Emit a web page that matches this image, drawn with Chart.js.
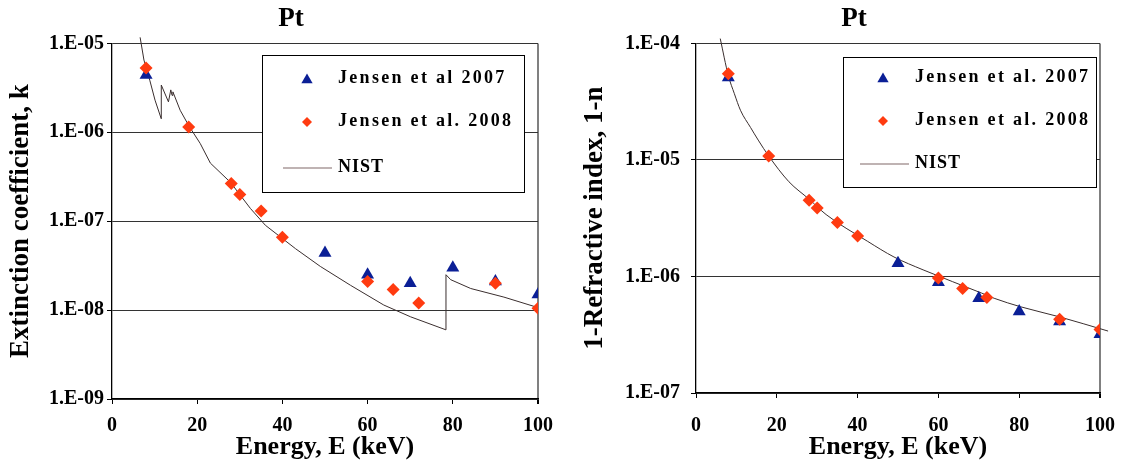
<!DOCTYPE html>
<html>
<head>
<title>Pt - extinction coefficient and refractive index</title>
<script src="https://cdn.jsdelivr.net/npm/chart.js"></script>
<style>
  body { margin: 0; background: #fff; }
  #wrap { display: flex; width: 1131px; height: 465px; }
  canvas { display: block; }
</style>
</head>
<body>
<div id="wrap">
  <canvas id="kPlot" width="576" height="465"></canvas>
  <canvas id="nPlot" width="555" height="465"></canvas>
</div>
<script>
// ---- left panel: extinction coefficient k ----
const kE2007 = [8, 50, 60, 70, 80, 90, 100];
const k2007 = [4.4e-6, 4.4e-8, 2.5e-8, 2.0e-8, 3.0e-8, 2.1e-8, 1.5e-8];
const kE2008 = [8, 18, 28, 30, 35, 40, 60, 66, 72, 90, 100];
const k2008 = [5.3e-6, 1.15e-6, 2.65e-7, 2.0e-7, 1.3e-7, 6.6e-8, 2.1e-8, 1.7e-8, 1.2e-8, 2.0e-8, 1.05e-8];
const kENist = [6.6, 7.5, 8.9, 10.1, 11.56, 11.57, 13.25, 13.8, 14.1, 14.3, 16, 18.1, 20.7, 23.1, 27.8,
                32.5, 36, 43.1, 48.9, 56, 63.8, 70.1, 78.38, 78.4, 79.5, 84.2, 92, 99.1, 100];
const kNist = [1.17e-5, 6.5e-6, 3.8e-6, 2.3e-6, 1.42e-6, 3.4e-6, 2.2e-6, 3.0e-6, 2.6e-6, 2.85e-6, 1.77e-6,
               1.17e-6, 7.5e-7, 4.5e-7, 2.74e-7, 1.39e-7, 9.0e-8, 4.9e-8, 3.1e-8, 1.9e-8, 1.14e-8, 8.4e-9,
               6.0e-9, 2.5e-8, 2.2e-8, 1.75e-8, 1.4e-8, 1.1e-8, 1.07e-8];
const kTicks = [1e-9, 1e-8, 1e-7, 1e-6, 1e-5];
const kTickLabels = ['1.E-09', '1.E-08', '1.E-07', '1.E-06', '1.E-05'];

// ---- right panel: 1 - n ----
const nE2007 = [8, 50, 60, 70, 80, 90, 100];
const n2007 = [5.1e-5, 1.3e-6, 8.9e-7, 6.5e-7, 5.0e-7, 4.1e-7, 3.2e-7];
const nE2008 = [8, 18, 28, 30, 35, 40, 60, 66, 72, 90, 100];
const n2008 = [5.5e-5, 1.08e-5, 4.5e-6, 3.86e-6, 2.9e-6, 2.23e-6, 9.7e-7, 7.9e-7, 6.6e-7, 4.3e-7, 3.5e-7];
const nENist = [6.0, 8, 9.5, 11, 13.5, 15.4, 18, 23, 28, 32.2, 42.5, 49, 56.2, 70.7, 73.8, 80.3, 90, 102];
const nNist = [1.1e-4, 5.3e-5, 3.7e-5, 2.67e-5, 1.9e-5, 1.48e-5, 1.08e-5, 6.5e-6, 4.6e-6, 3.4e-6, 2.0e-6,
               1.47e-6, 1.14e-6, 7.2e-7, 6.5e-7, 5.5e-7, 4.5e-7, 3.4e-7];
const nTicks = [1e-7, 1e-6, 1e-5, 1e-4];
const nTickLabels = ['1.E-07', '1.E-06', '1.E-05', '1.E-04'];

const FONT = "'Liberation Serif', 'Times New Roman', serif";
const BLUE = '#0b1f96';
const RED = '#ff3b10';
const NIST_COLOR = '#3a2e2e';

function pts(xs, ys) {
  return xs.map((x, i) => ({ x: x, y: ys[i] }));
}

// the chart title sits a little right of the canvas centre in the original
const titleNudge = {
  id: 'titleNudge',
  afterLayout(chart, args, o) {
    const t = chart.titleBlock;
    if (t) { t.left += o.dx; t.right += o.dx; }
  }
};

// spaced-out text, the legend of the original is tracked wide
function spacedText(ctx, str, x, y, gap) {
  for (const ch of str) {
    ctx.fillText(ch, x, y);
    x += ctx.measureText(ch).width + gap;
  }
}

// legend drawn as a framed white box inside the plot, like the original
const boxLegend = {
  id: 'boxLegend',
  afterDraw(chart, args, o) {
    const ctx = chart.ctx;
    ctx.save();
    ctx.fillStyle = '#fff';
    ctx.fillRect(o.x, o.y, o.w, o.h);
    ctx.strokeStyle = '#000';
    ctx.lineWidth = 1;
    ctx.strokeRect(o.x + 0.5, o.y + 0.5, o.w, o.h);
    ctx.font = 'bold 18px ' + FONT;
    ctx.textBaseline = 'middle';
    ctx.textAlign = 'left';
    chart.data.datasets.forEach((ds, i) => {
      const ry = o.rows[i];
      if (ds.showLine) {
        ctx.strokeStyle = '#806868';
        ctx.lineWidth = 1.2;
        ctx.beginPath();
        ctx.moveTo(o.lineX[0], ry + 1);
        ctx.lineTo(o.lineX[1], ry + 1);
        ctx.stroke();
      } else {
        ctx.fillStyle = ds.backgroundColor;
        ctx.beginPath();
        if (ds.pointStyle === 'triangle') {
          const r = 6.5, cy = ry + 2;
          ctx.moveTo(o.markX, cy - r);
          ctx.lineTo(o.markX + r * 0.866, cy + r / 2);
          ctx.lineTo(o.markX - r * 0.866, cy + r / 2);
        } else {
          const r = 5, cy = ry + 1;
          ctx.moveTo(o.markX, cy - r);
          ctx.lineTo(o.markX + r, cy);
          ctx.lineTo(o.markX, cy + r);
          ctx.lineTo(o.markX - r, cy);
        }
        ctx.closePath();
        ctx.fill();
      }
      ctx.fillStyle = '#000';
      spacedText(ctx, ds.label, o.textX, ry, ds.showLine ? 1 : 2.3);
    });
    ctx.restore();
  }
};

function makeChart(id, cfg) {
  return new Chart(document.getElementById(id), {
    type: 'scatter',
    data: {
      datasets: [{
        label: cfg.labels[0],
        data: pts(cfg.e2007, cfg.v2007),
        pointStyle: 'triangle',
        backgroundColor: BLUE,
        borderColor: BLUE,
        borderWidth: 0,
        pointRadius: 7.5,
        order: 2
      }, {
        label: cfg.labels[1],
        data: pts(cfg.e2008, cfg.v2008),
        pointStyle: 'rectRot',
        backgroundColor: RED,
        borderColor: RED,
        borderWidth: 0,
        pointRadius: 6.5,
        order: 1
      }, {
        label: 'NIST',
        data: pts(cfg.eNist, cfg.vNist),
        showLine: true,
        borderColor: NIST_COLOR,
        borderWidth: 1,
        pointRadius: 0,
        cubicInterpolationMode: cfg.smooth ? 'monotone' : 'default',
        tension: 0,
        clip: false,
        order: 3
      }]
    },
    options: {
      responsive: false,
      animation: false,
      events: [],
      layout: { padding: { left: 0, right: cfg.padRight, top: 0, bottom: 0 } },
      scales: {
        x: {
          type: 'linear',
          min: 0,
          max: 100,
          ticks: {
            stepSize: 20,
            padding: cfg.xTickPad,
            color: '#000',
            font: { family: FONT, size: 20, weight: 'bold' }
          },
          grid: {
            color: (c) => (c.tick && c.tick.value === 100) ? '#808080' : 'rgba(0,0,0,0)',
            lineWidth: (c) => (c.tick && c.tick.value === 100) ? 2 : 1,
            tickColor: '#000',
            tickLength: 5
          },
          border: { color: '#000', width: 1.3 },
          title: {
            display: true,
            text: 'Energy, E (keV)',
            color: '#000',
            font: { family: FONT, size: 26, weight: 'bold', lineHeight: 1 },
            padding: { top: 0, bottom: 5 }
          },
          afterFit: (s) => { s.height = cfg.xHeight; }
        },
        y: {
          type: 'logarithmic',
          min: cfg.ticks[0],
          max: cfg.ticks[cfg.ticks.length - 1],
          afterBuildTicks: (s) => { s.ticks = cfg.ticks.map(v => ({ value: v })); },
          ticks: {
            autoSkip: false,
            padding: cfg.yTickPad,
            color: '#000',
            font: { family: FONT, size: 20, weight: 'bold' },
            callback: (v, i) => cfg.tickLabels[i]
          },
          grid: {
            color: '#333',
            lineWidth: 1,
            tickColor: '#000',
            tickLength: 5
          },
          border: { color: '#000', width: 1.3 },
          title: {
            display: true,
            text: cfg.yTitle,
            color: '#000',
            font: { family: FONT, size: 27, weight: 'bold', lineHeight: 1 },
            padding: { top: cfg.yTitlePad, bottom: 0 }
          },
          afterFit: (s) => { s.width = cfg.yWidth; }
        }
      },
      plugins: {
        legend: { display: false },
        tooltip: { enabled: false },
        title: {
          display: true,
          text: 'Pt',
          color: '#000',
          font: { family: FONT, size: 27, weight: 'bold' },
          padding: { top: 3, bottom: 8 }
        },
        titleNudge: { dx: cfg.titleDx },
        boxLegend: cfg.legend
      }
    },
    plugins: [titleNudge, boxLegend]
  });
}

makeChart('kPlot', {
  labels: ['Jensen et al 2007', 'Jensen et al. 2008'],
  e2007: kE2007, v2007: k2007,
  e2008: kE2008, v2008: k2008,
  eNist: kENist, vNist: kNist, smooth: false,
  ticks: kTicks, tickLabels: kTickLabels,
  yTitle: 'Extinction coefficient, k',
  padRight: 38, yWidth: 112, xHeight: 66, titleDx: 22,
  xTickPad: 10, yTickPad: 3, yTitlePad: 8,
  legend: { x: 262, y: 55, w: 262, h: 137, rows: [78, 121, 167], markX: 307, textX: 338, lineX: [283, 332] }
});

makeChart('nPlot', {
  labels: ['Jensen et al. 2007', 'Jensen et al. 2008'],
  e2007: nE2007, v2007: n2007,
  e2008: nE2008, v2008: n2008,
  eNist: nENist, vNist: nNist, smooth: true,
  ticks: nTicks, tickLabels: nTickLabels,
  yTitle: '1-Refractive index, 1-n',
  padRight: 19, yWidth: 120, xHeight: 72, titleDx: 10,
  xTickPad: 16, yTickPad: 11, yTitlePad: 6,
  legend: { x: 267, y: 57, w: 253, h: 130, rows: [77, 120, 163], markX: 307, textX: 339, lineX: [284, 333] }
});
</script>
</body>
</html>
